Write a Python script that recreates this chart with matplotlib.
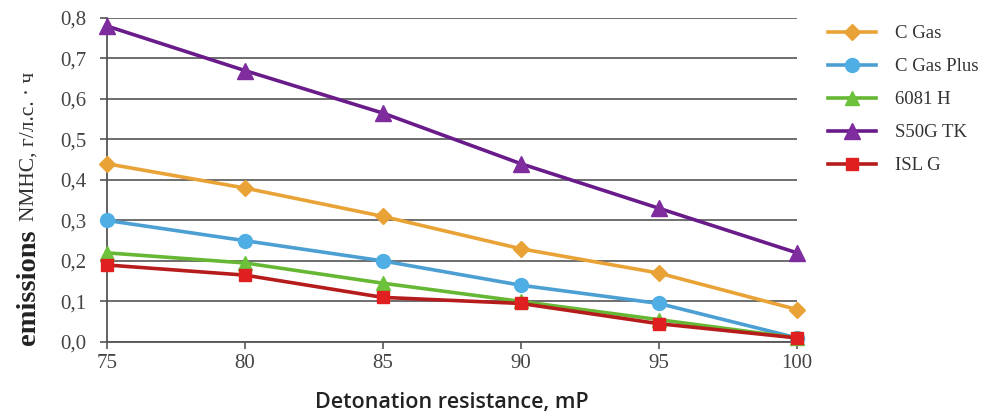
import matplotlib.pyplot as plt
import numpy as np

# Data
resistance = [75, 80, 85, 90, 95, 100]
c_gas = [0.44, 0.38, 0.31, 0.23, 0.17, 0.08]
c_gas_plus = [0.30, 0.25, 0.20, 0.14, 0.095, 0.01]
h6081 = [0.22, 0.195, 0.145, 0.10, 0.055, 0.01]
s50g_tk = [0.78, 0.67, 0.565, 0.44, 0.33, 0.22]
isl_g = [0.19, 0.165, 0.11, 0.095, 0.045, 0.01]

series_names = ["C Gas", "C Gas Plus", "6081 H", "S50G TK", "ISL G"]
y_ticks = [0.0, 0.1, 0.2, 0.3, 0.4, 0.5, 0.6, 0.7, 0.8]

serif = ["Liberation Serif", "DejaVu Serif"]

fig = plt.figure(figsize=(9.9, 4.17), dpi=100)
ax = fig.add_axes([0.108, 0.18, 0.697, 0.777])

styles = [
    (c_gas, "#E9A235", "#E9A235", "D", 8),
    (c_gas_plus, "#4C9FD3", "#4FAEE3", "o", 10),
    (h6081, "#66B734", "#6CC23A", "^", 10),
    (s50g_tk, "#6A1B8A", "#7E2C9E", "^", 11),
    (isl_g, "#B71C1C", "#E02020", "s", 9),
]
for (vals, lc, mc, mk, ms), name in zip(styles, series_names):
    ax.plot(resistance, vals, color=lc, lw=2.6, marker=mk, ms=ms,
            mfc=mc, mec=mc, label=name, clip_on=False, zorder=3)

ax.set_xlim(75, 100)
ax.set_ylim(0, 0.8)
ax.set_xticks(resistance)
ax.set_yticks(y_ticks)
ax.set_yticklabels([f"{v:.1f}".replace(".", ",") for v in y_ticks])
ax.grid(axis="y", color="#555555", lw=1.2)
ax.set_axisbelow(True)
for s in ["top", "right"]:
    ax.spines[s].set_visible(False)
for s in ["left", "bottom"]:
    ax.spines[s].set_color("#555555")
    ax.spines[s].set_linewidth(1.3)
ax.tick_params(axis="both", direction="out", color="#555555", length=5,
               width=1.2, labelcolor="#444444")
ax.tick_params(axis="y", pad=10)
for lab in ax.get_xticklabels() + ax.get_yticklabels():
    lab.set_family(serif)
    lab.set_fontsize(15)

ax.set_xlabel("Detonation resistance, mP", family=["Open Sans", "DejaVu Sans"],
              fontsize=15.5, fontweight="semibold", color="#222222", labelpad=14)

# two-part y label
fig.text(0.029, 0.312, "emissions", rotation=90, family=serif, fontsize=20.5,
         fontweight="bold", color="#222222", ha="center", va="center")
fig.text(0.029, 0.648, "NMHC, г/л.с. · ч", rotation=90, family=serif,
         fontsize=15.5, color="#333333", ha="center", va="center")

leg = ax.legend(loc="upper left", bbox_to_anchor=(1.02, 1.03), frameon=False,
                prop={"family": serif, "size": 13.5}, handlelength=2.6,
                labelspacing=0.85, handletextpad=1.0, labelcolor="#333333")

fig.savefig("out.png", dpi=100)
